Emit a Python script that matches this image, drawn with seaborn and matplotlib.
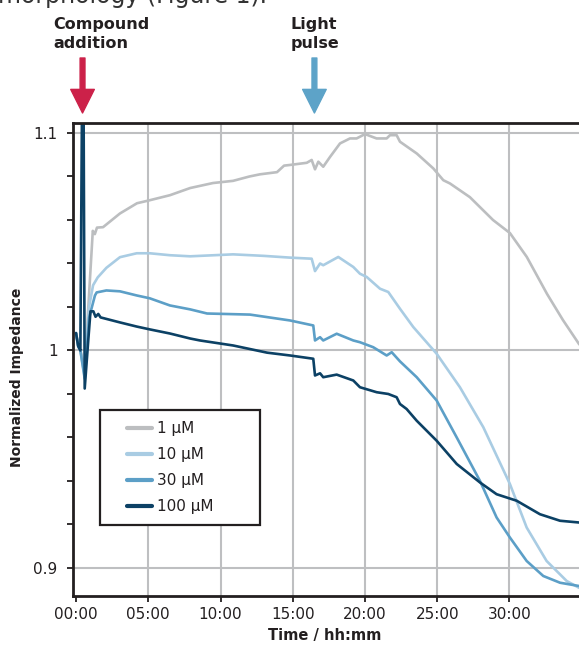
import numpy as np
import pandas as pd
import seaborn as sns
import matplotlib.pyplot as plt
from matplotlib.patches import Rectangle

sns.set_style("white")
plt.rcParams['font.family'] = ['DejaVu Sans']

# time in hours, normalized impedance
t_1uM = [0, 0.15, 0.3, 0.5, 0.65, 0.85, 1.16, 1.3, 1.45, 1.87, 3.04, 4.22, 5.05, 6.5, 7.9,
         9.48, 10.87, 12.0, 12.73, 13.91, 14.4, 14.8, 15.97, 16.31, 16.54, 16.77, 17.11,
         17.58, 18.27, 18.96, 19.42, 20.0, 20.8, 21.5, 21.73, 22.19, 22.42, 23.58, 24.73,
         25.42, 25.88, 27.26, 28.86, 30.03, 31.2, 32.6, 33.7, 34.81, 35.1]
v_1uM = [1.008, 1.002, 1.0, 0.995, 0.995, 1.02, 1.055, 1.0535, 1.0565, 1.0567, 1.063,
         1.0677, 1.069, 1.0714, 1.0747, 1.077, 1.078, 1.080, 1.081, 1.082, 1.085, 1.0853,
         1.0863, 1.0876, 1.0833, 1.0868, 1.0845, 1.089, 1.0952, 1.0975, 1.0975, 1.0995,
         1.0975, 1.0975, 1.099, 1.099, 1.096, 1.0906, 1.0837, 1.0783, 1.0768, 1.0705, 1.060,
         1.054, 1.043, 1.026, 1.014, 1.003, 1.001]

t_10uM = [0, 0.15, 0.3, 0.6, 0.9, 1.18, 1.5, 2.1, 3.04, 4.2, 5.1, 6.5, 7.9, 10.87, 13.0,
          14.81, 16.31, 16.54, 16.89, 17.11, 18.15, 19.19, 19.65, 20.12, 21.04, 21.61, 22.42,
          23.34, 24.96, 26.57, 28.19, 30.03, 31.19, 32.57, 33.96, 34.81, 35.1]
v_10uM = [1.008, 1.002, 1.0, 0.988, 1.02, 1.030, 1.0336, 1.038, 1.0429, 1.0447, 1.0447,
          1.0438, 1.0433, 1.0442, 1.0435, 1.0427, 1.0422, 1.0365, 1.040, 1.0392, 1.043,
          1.0384, 1.0353, 1.0338, 1.0284, 1.0269, 1.0192, 1.0108, 0.9985, 0.9831, 0.9647,
          0.9386, 0.9186, 0.9032, 0.894, 0.8909, 0.8905]

t_30uM = [0, 0.15, 0.3, 0.6, 0.9, 1.31, 1.43, 2.1, 3.04, 4.2, 5.1, 6.5, 7.9, 9.07, 12.04,
          14.81, 16.42, 16.54, 16.89, 17.11, 18.04, 19.19, 19.65, 20.57, 21.5, 21.85, 22.42,
          23.58, 24.96, 26.35, 27.96, 29.11, 30.03, 31.19, 32.34, 33.5, 34.81, 35.1]
v_30uM = [1.008, 1.002, 1.0, 0.987, 1.015, 1.0253, 1.0267, 1.0276, 1.0272, 1.0253, 1.024,
          1.0207, 1.0189, 1.017, 1.0165, 1.0138, 1.0115, 1.0046, 1.0061, 1.0046, 1.0077,
          1.0046, 1.0038, 1.0015, 0.9977, 0.9992, 0.9950, 0.9877, 0.977, 0.960, 0.940,
          0.9232, 0.914, 0.9032, 0.8963, 0.8932, 0.8917, 0.8915]

t_100uM = [0, 0.15, 0.3, 0.45, 0.5, 0.6, 0.85, 1.0, 1.2, 1.35, 1.54, 1.7, 3.04, 4.2, 5.1,
           6.5, 7.9, 8.58, 10.87, 13.22, 14.81, 16.42, 16.54, 16.89, 17.11, 18.04, 19.19,
           19.65, 20.81, 21.61, 22.19, 22.42, 22.88, 23.58, 24.96, 26.35, 27.96, 29.11, 30.5,
           32.11, 33.5, 34.81, 35.1]
v_100uM = [1.008, 1.002, 1.0, 1.15, 1.15, 0.9825, 1.005, 1.018, 1.018, 1.0155, 1.0168,
           1.0152, 1.0129, 1.011, 1.0097, 1.0078, 1.0055, 1.0046, 1.0023, 0.999, 0.9977,
           0.9962, 0.9885, 0.9895, 0.9877, 0.9889, 0.9862, 0.9831, 0.9808, 0.980, 0.9785,
           0.9754, 0.9731, 0.9677, 0.9585, 0.9478, 0.9393, 0.9339, 0.9309, 0.9247, 0.9217,
           0.9209, 0.9208]

labels = ['1 µM', '10 µM', '30 µM', '100 µM']
colors = ['#BCBEC0', '#A9CCE3', '#5C9FC7', '#0C4165']
x_ticks = [0, 5, 10, 15, 20, 25, 30]
x_ticklabels = ['00:00', '05:00', '10:00', '15:00', '20:00', '25:00', '30:00']

frames = []
for lab, t, v in zip(labels, [t_1uM, t_10uM, t_30uM, t_100uM], [v_1uM, v_10uM, v_30uM, v_100uM]):
    frames.append(pd.DataFrame({'time': t, 'imp': v, 'conc': lab}))
df = pd.concat(frames, ignore_index=True)

fig = plt.figure(figsize=(5.79, 6.48), dpi=100)
ax = fig.add_axes([73 / 579, 52 / 648, 509 / 579, 473 / 648])

sns.lineplot(data=df, x='time', y='imp', hue='conc', hue_order=labels,
             palette=dict(zip(labels, colors)), estimator=None, linewidth=1.9, ax=ax)

ax.set_xlim(-0.21, 35.02)
ax.set_ylim(0.8871, 1.1046)
ax.set_xticks(x_ticks)
ax.set_xticklabels(x_ticklabels)
ax.set_yticks([0.9, 1.0, 1.1])
ax.set_yticklabels(['0.9', '1', '1.1'])
ax.set_yticks([0.92, 0.94, 0.96, 0.98, 1.02, 1.04, 1.06, 1.08], minor=True)
ax.grid(True, which='major', color='#BEBFC1', linewidth=1.5)
ax.xaxis.get_gridlines()[0].set_visible(False)  # no grid line at 00:00
ax.set_axisbelow(True)
ax.tick_params(axis='both', which='both', direction='out', length=4, width=1.3,
               color='#231F20', labelsize=11, labelcolor='#231F20')
ax.tick_params(axis='y', which='both', left=True, pad=7)
ax.tick_params(axis='x', which='both', bottom=True, pad=4)
for s in ['left', 'top', 'bottom']:
    ax.spines[s].set_color('#231F20')
    ax.spines[s].set_linewidth(2)
ax.spines['right'].set_visible(False)

ax.set_xlabel('Time / hh:mm', fontsize=10.5, fontweight='bold', color='#231F20')
ax.set_ylabel('Normalized Impedance', fontsize=10, fontweight='bold', color='#231F20')
ax.xaxis.set_label_coords(0.494, -0.068)
ax.xaxis.label.set_va('top')
ax.yaxis.set_label_coords(-0.096, 0.462)

# legend: entries without frame + separate box
leg = ax.legend(loc='upper left', bbox_to_anchor=(0.106, 0.369), borderaxespad=0,
                borderpad=0, fontsize=11, handlelength=1.63, handletextpad=0.33,
                labelspacing=0.71, frameon=False)
for h in leg.get_lines():
    h.set_linewidth(3)
for txt in leg.get_texts():
    txt.set_color('#231F20')
ax.add_patch(Rectangle((0.053, 0.150), 0.314, 0.243, transform=ax.transAxes,
                       facecolor='white', edgecolor='#231F20', linewidth=1.6, zorder=4))
leg.set_zorder(5)

# event markers above the plot
events = [(0.45, 'Compound\naddition', '#CC2149', 53 / 579),
          (16.5, 'Light\npulse', '#5DA3C8', 291 / 579)]
for tx, name, col, xtext in events:
    ax.annotate('', xy=(tx, 1 - 113 / 648), xytext=(tx, 1 - 58 / 648),
                xycoords=('data', 'figure fraction'), textcoords=('data', 'figure fraction'),
                arrowprops=dict(color=col, width=3.5, headwidth=17, headlength=17, shrink=0),
                annotation_clip=False)
    fig.text(xtext, 1 - 48 / 648, name, fontsize=11.5, fontweight='bold', color='#231F20',
             ha='left', va='baseline', linespacing=1.3)

fig.text(-0.003, 1 - 3 / 648, 'morphology (Figure 1).', fontsize=17, color='#333333',
         ha='left', va='baseline')

fig.savefig('out.png', dpi=100)
